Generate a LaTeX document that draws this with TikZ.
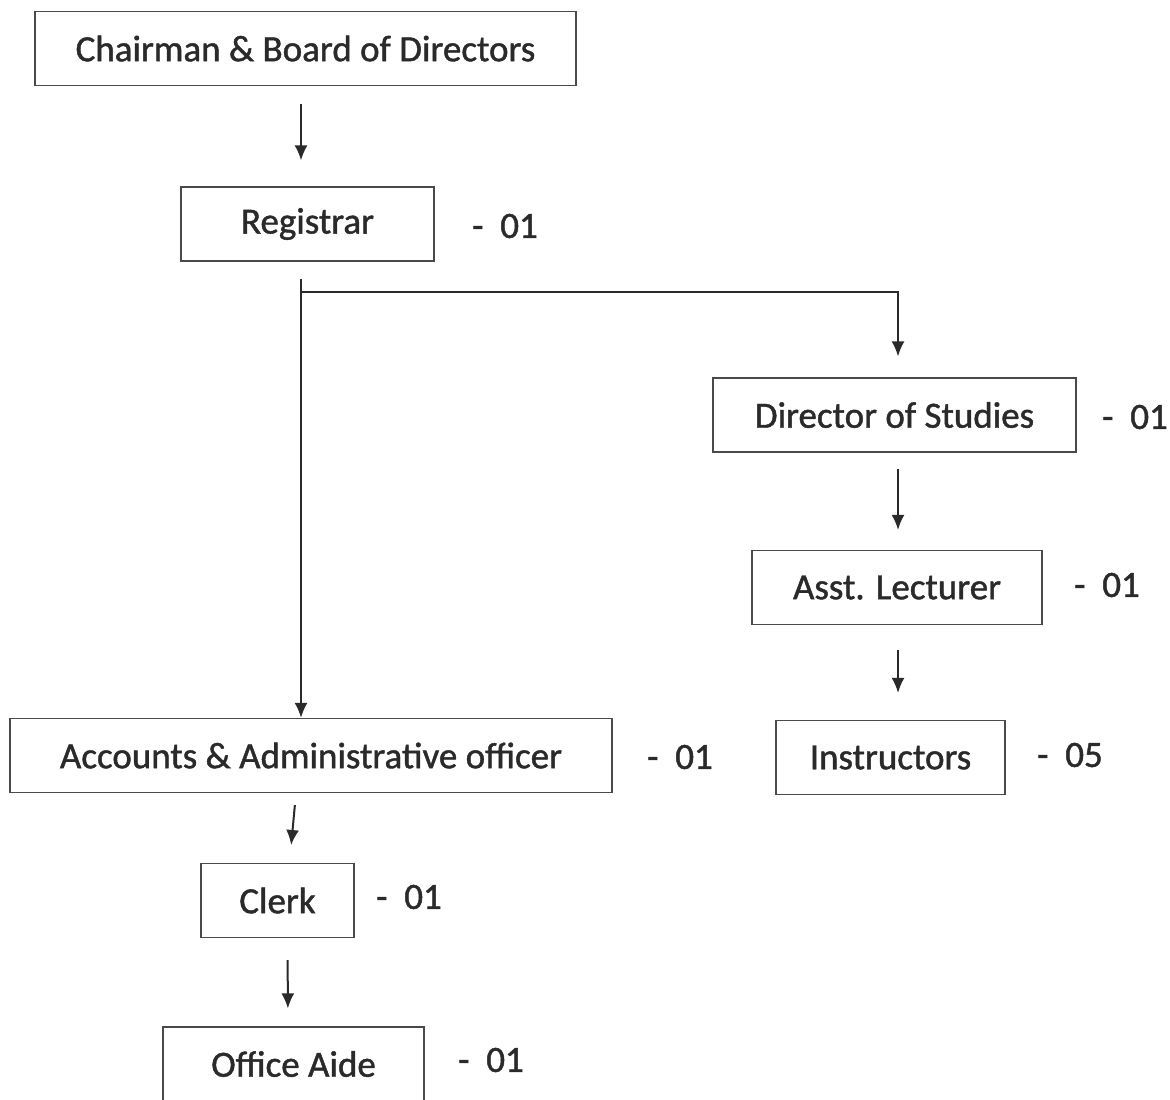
\documentclass[tikz,border=0pt]{standalone}
\usepackage{fontspec}
\setmainfont{Carlito}
\newfontfamily\scanfont{Carlito}[FakeBold=1.2]
\usetikzlibrary{arrows.meta}
\definecolor{ink}{HTML}{2A2A2A}
\definecolor{edge}{HTML}{4A4A4A}
\tikzset{
	post/.style={draw=edge, line width=0.6pt, text=ink, minimum height=37pt, inner sep=0pt,
		font=\scanfont\fontsize{18.5}{22}\selectfont},
	count/.style={text=ink, font=\scanfont\fontsize{18.5}{22}\selectfont},
	arr/.style={draw=ink, line width=1pt, -{Latex[length=7.5pt,width=6.5pt]}},
}
\begin{document}
\begin{tikzpicture}[x=0.5pt, y=-0.5pt]
	\clip (0,0) rectangle (1170,1099);
	\node[post, minimum width=270.5pt] (chair) at (305.5,48.5) {Chairman \& Board of Directors};
	\node[post, minimum width=126.5pt] (reg) at (307.5,224) {Registrar};
	\node[count] (regn) at (505,226) {-\ \ 01};
	\node[post, minimum width=181.5pt] (dos) at (894.5,415) {Director of Studies};
	\node[count] (dosn) at (1135,417) {-\ \ 01};
	\node[post, minimum width=145pt] (asst) at (897,587.5) {Asst. Lecturer};
	\node[count] (asstn) at (1107,585) {-\ \ 01};
	\node[post, minimum width=114.5pt] (inst) at (890.5,757.5) {Instructors};
	\node[count] (instn) at (1070,755) {-\ \ 05};
	\node[post, minimum width=301pt] (acc) at (311,755.5) {Accounts \& Administrative officer};
	\node[count] (accn) at (680,757) {-\ \ 01};
	\node[post, minimum width=76.5pt] (clerk) at (277.5,900.5) {Clerk};
	\node[count] (clerkn) at (409,897) {-\ \ 01};
	\node[post, minimum width=130.5pt] (aide) at (293.5,1064) {Office Aide};
	\node[count] (aiden) at (491,1060) {-\ \ 01};
	\coordinate (fork) at (301,292);

	\draw[arr, shorten <=9pt, shorten >=13pt] (chair.south -| fork) -- (reg.north -| fork);
	\draw[draw=ink, line width=1pt] ([yshift=-8.5pt]reg.south -| fork) -- (fork);
	\draw[arr] (fork) -- (fork |- acc.north);
	\draw[arr, shorten >=10.5pt] (fork) -| (898,0 |- dos.north);
	\draw[arr, shorten <=8pt, shorten >=10pt] (dos.south -| 898,0) -- (asst.north -| 898,0);
	\draw[arr, shorten <=12.5pt, shorten >=13.5pt] (asst.south -| 898,0) -- (inst.north -| 898,0);
	\draw[arr, shorten <=6pt, shorten >=9pt] ([xshift=-7.5pt]acc.south) -- ([xshift=6pt]clerk.north);
	\draw[arr, shorten <=11pt, shorten >=9pt] ([xshift=5pt]clerk.south) -- ([xshift=-2.75pt]aide.north);
\end{tikzpicture}
\end{document}
